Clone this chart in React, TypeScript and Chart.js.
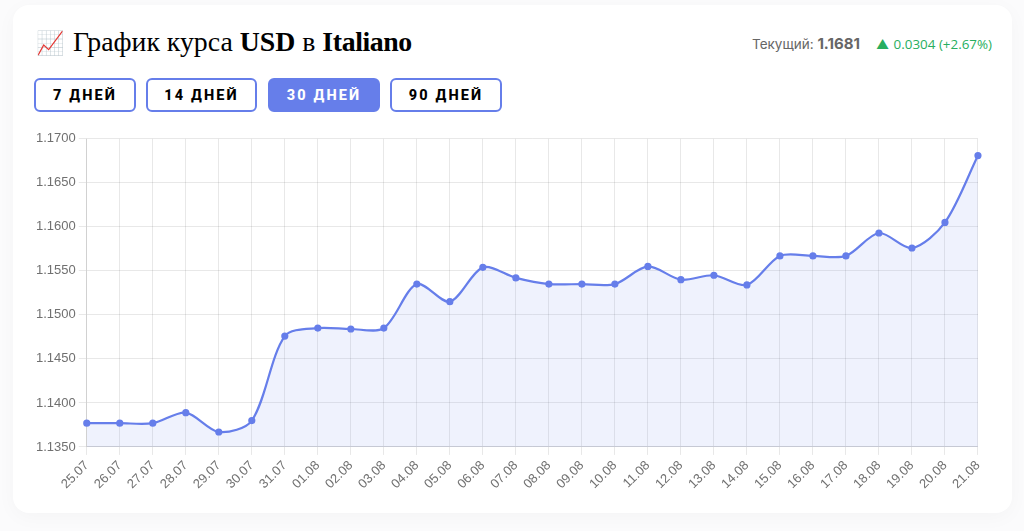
import React, { useEffect, useRef } from "react";
import { Chart, registerables } from "chart.js";

Chart.register(...registerables);

const categories = ["25.07","26.07","27.07","28.07","29.07","30.07","31.07","01.08","02.08","03.08","04.08","05.08","06.08","07.08","08.08","09.08","10.08","11.08","12.08","13.08","14.08","15.08","16.08","17.08","18.08","19.08","20.08","21.08"];
const rates = [1.1377,1.1377,1.1377,1.1389,1.1367,1.138,1.1476,1.1485,1.1484,1.1485,1.1535,1.1515,1.1554,1.1542,1.1535,1.1535,1.1535,1.1555,1.154,1.1545,1.1534,1.1567,1.1567,1.1567,1.1593,1.1576,1.1605,1.1681];
const ranges = ["7 ДНЕЙ", "14 ДНЕЙ", "30 ДНЕЙ", "90 ДНЕЙ"];
const activeRange = "30 ДНЕЙ";
const rangeBoxes = [{ left: 34, width: 102 }, { left: 146, width: 111 }, { left: 268, width: 112 }, { left: 390, width: 112 }];

const accent = "#667eea";

export default function App() {
  const ref = useRef<HTMLCanvasElement>(null);
  useEffect(() => {
    document.body.style.margin = "0";
    document.body.style.background = "#fbfbfc";
    const chart = new Chart(ref.current!, {
      type: "line",
      data: {
        labels: categories,
        datasets: [{
          data: rates,
          borderColor: accent,
          backgroundColor: "rgba(102,126,234,0.1)",
          borderWidth: 2.2,
          fill: true,
          tension: 0.3,
          pointRadius: 2.5,
          pointBackgroundColor: accent,
          pointBorderColor: accent,
        }],
      },
      options: {
        responsive: false,
        animation: false,
        layout: { padding: 0 },
        plugins: { legend: { display: false }, tooltip: { enabled: false } },
        scales: {
          x: {
            grid: { color: "rgba(0,0,0,0.09)" },
            ticks: { color: "#707070", font: { size: 13, family: "'Liberation Sans', Arial" }, maxRotation: 45, minRotation: 45, autoSkip: false },
          },
          y: {
            min: 1.135,
            max: 1.17,
            grid: { color: "rgba(0,0,0,0.09)" },
            ticks: { color: "#707070", stepSize: 0.005, font: { size: 13, family: "'Liberation Sans', Arial" }, callback: (v: any) => Number(v).toFixed(4) },
          },
        },
      },
    });
    return () => chart.destroy();
  }, []);

  return (
    <div style={{ position: "relative", width: 1024, height: 531, overflow: "hidden" }}>
      <div style={{ position: "absolute", left: 13, top: 5, width: 999, height: 508, background: "#fff", borderRadius: 16, boxShadow: "0 4px 20px rgba(0,0,0,0.03)" }} />
      <div style={{ position: "absolute", left: 36, top: 24, fontFamily: "'Liberation Serif', serif", fontSize: 27.8, color: "#000", whiteSpace: "nowrap", lineHeight: "36px" }}>
        <span style={{ fontSize: 23, marginRight: 1 }}>📈</span> График курса <b>USD</b> в <b style={{ letterSpacing: -0.4 }}>Italiano</b>
      </div>
      <div style={{ position: "absolute", left: 752, top: 34, fontFamily: "Inter, sans-serif", fontSize: 13.5, color: "#666", whiteSpace: "nowrap", lineHeight: "20px" }}>
        Текущий: <b style={{ fontSize: 15 }}>1.1681</b>
      </div>
      <div style={{ position: "absolute", left: 876, top: 34, fontFamily: "Inter, sans-serif", fontSize: 13, color: "#27ae60", whiteSpace: "nowrap", lineHeight: "20px" }}>▲</div>
      <div style={{ position: "absolute", right: 32, top: 34, fontFamily: "'Open Sans', sans-serif", fontSize: 13.4, color: "#27ae60", whiteSpace: "nowrap", lineHeight: "20px" }}>
        0.0304 (+2.67%)
      </div>
      {ranges.map((r, i) => {
        const active = r === activeRange;
        return (
          <div key={r} style={{ position: "absolute", left: rangeBoxes[i].left, top: 78, width: rangeBoxes[i].width, height: 34, boxSizing: "border-box", border: `2px solid ${accent}`, borderRadius: 6, paddingTop: 1, background: active ? accent : "#fff", color: active ? "#fff" : "#000", fontFamily: "Roboto, sans-serif", fontWeight: 800, fontSize: 14.5, letterSpacing: 2.1, display: "flex", alignItems: "center", justifyContent: "center" }}>
            {r}
          </div>
        );
      })}
      <canvas ref={ref} width={959} height={367} style={{ position: "absolute", left: 33, top: 128 }} />
    </div>
  );
}
